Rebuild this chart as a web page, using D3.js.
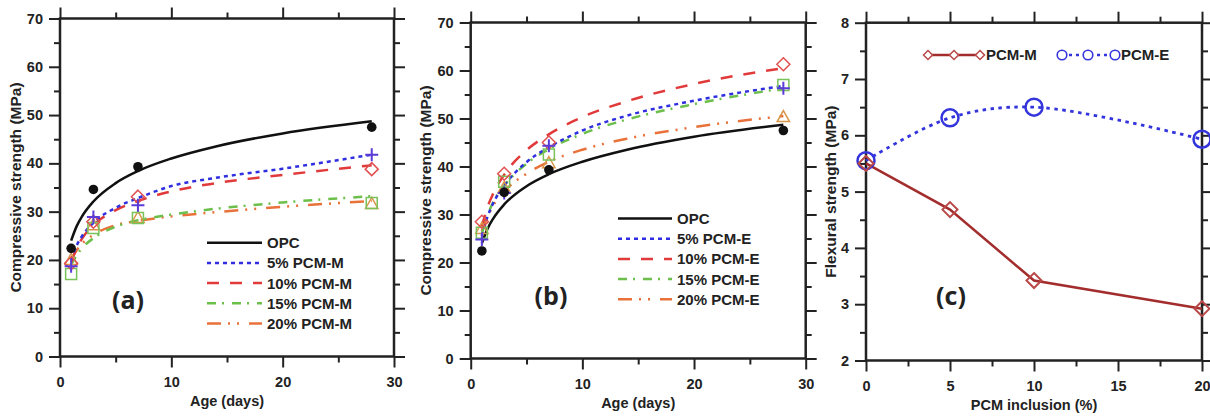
<!DOCTYPE html>
<html><head><meta charset="utf-8">
<script src="https://cdn.jsdelivr.net/npm/d3@7"></script>
<style>
body{margin:0;background:#fff;}
svg text{font-family:"Liberation Sans",Arial,sans-serif;font-weight:bold;fill:#222;}
</style></head><body>
<svg id="chart" width="1210" height="416"></svg>
<script>
// ---------- data ----------
const ages = [1, 3, 7, 28];
const fitAges = [1, 1.5, 2, 3, 5, 7, 10, 14, 20, 28];
const namesM = ["OPC", "5% PCM-M", "10% PCM-M", "15% PCM-M", "20% PCM-M"];
const namesE = ["OPC", "5% PCM-E", "10% PCM-E", "15% PCM-E", "20% PCM-E"];

const opcPoints = [22.4, 34.6, 39.3, 47.5];
const opcFit    = [24.0, 27.0, 29.1, 32.1, 35.9, 38.4, 41.0, 43.5, 46.2, 48.7];

const m5Points  = [18.7, 28.9, 31.3, 41.8];
const m5Fit     = [20.0, 23.0, 25.0, 27.7, 30.8, 32.8, 35.3, 37.0, 38.9, 41.8];
const m10Points = [19.3, 27.9, 33.1, 38.8];
const m10Fit    = [19.5, 22.5, 24.5, 27.2, 30.3, 32.2, 34.2, 35.9, 37.6, 39.6];
const m15Points = [17.1, 26.6, 28.7, 31.8];
const m15Fit    = [19.0, 21.0, 22.5, 24.5, 26.9, 28.2, 29.4, 30.6, 31.9, 33.2];
const m20Points = [20.0, 27.2, 28.7, 31.6];
const m20Fit    = [20.0, 22.0, 23.4, 25.2, 27.2, 28.1, 29.0, 29.9, 31.0, 32.2];

const e5Points  = [24.8, 34.5, 44.3, 56.3];
const e5Fit     = [25.5, 29.5, 32.3, 36.0, 40.9, 44.0, 47.5, 50.6, 53.7, 56.8];
const e10Points = [28.5, 38.5, 45.0, 61.3];
const e10Fit    = [27.5, 31.5, 34.3, 38.3, 43.4, 46.7, 50.3, 53.6, 57.2, 60.5];
const e15Points = [26.2, 36.8, 42.5, 57.0];
const e15Fit    = [26.0, 29.8, 32.5, 36.0, 40.6, 43.6, 46.8, 49.8, 53.0, 56.3];
const e20Points = [27.0, 35.5, 40.7, 50.3];
const e20Fit    = [26.5, 29.5, 31.8, 34.8, 38.5, 41.0, 43.5, 45.8, 48.2, 50.5];

const ageTicks = [0, 10, 20, 30];
const ageMinor = [5, 15, 25];
const strengthTicks = [0, 10, 20, 30, 40, 50, 60, 70];
const strengthMinor = [5, 15, 25, 35, 45, 55, 65];

const inclusion = [0, 5, 10, 20];
const flexuralM = [5.50, 4.68, 3.42, 2.92];
const flexuralE = [5.55, 6.31, 6.50, 5.93];
const inclusionTicks = [0, 5, 10, 15, 20];
const inclusionMinor = [2.5, 7.5, 12.5, 17.5];
const flexTicks = [2, 3, 4, 5, 6, 7, 8];
const flexMinor = [2.5, 3.5, 4.5, 5.5, 6.5, 7.5];
const namesC = ["PCM-M", "PCM-E"];

// ---------- styles ----------
const styles = [
  {line:"#111111", dash:null,               marker:"circle",   mcol:"#111111"},
  {line:"#2f2fe0", dash:"4,4",              marker:"plus",     mcol:"#5a3bd8"},
  {line:"#e03a3a", dash:"12,11",            marker:"diamond",  mcol:"#e05050"},
  {line:"#6cbf4a", dash:"9,6,2,8",          marker:"square",   mcol:"#79c25a"},
  {line:"#e8723a", dash:"14,7,2,7,2,10",    marker:"triangle", mcol:"#d9964a"}
];

const svg = d3.select("#chart");
const fmtInt = d3.format("d");

function markerPath(type, s) {
  switch (type) {
    case "plus": return `M${-s},0H${s}M0,${-s}V${s}`;
    case "diamond": return `M0,${-s}L${s},0L0,${s}L${-s},0Z`;
    case "square": return `M${-s},${-s}H${s}V${s}H${-s}Z`;
    case "triangle": return `M0,${-s}L${s*0.95},${s*0.7}L${-s*0.95},${s*0.7}Z`;
  }
  return "";
}

function frameAndAxes(p) {
  const g = svg.append("g");
  const st = (sel) => {
    sel.select(".domain").remove();
    sel.selectAll("line").attr("stroke", "#222").attr("stroke-width", 2);
    sel.selectAll("text").attr("font-family", null).attr("font-size", "14.5px").attr("fill", "#222");
  };
  const xMaj = p.xTicks, xMin = p.xMinor, yMaj = p.yTicks, yMin = p.yMinor;
  g.append("g").attr("transform", `translate(0,${p.bottom})`)
    .call(d3.axisBottom(p.x).tickValues(xMaj).tickSize(11).tickPadding(9).tickFormat(fmtInt)).call(st);
  g.append("g").attr("transform", `translate(0,${p.bottom})`)
    .call(d3.axisBottom(p.x).tickValues(xMin).tickSize(6).tickFormat("")).call(st);
  g.append("g").attr("transform", `translate(0,${p.top})`)
    .call(d3.axisTop(p.x).tickValues(xMaj).tickSize(11).tickFormat("")).call(st);
  g.append("g").attr("transform", `translate(0,${p.top})`)
    .call(d3.axisTop(p.x).tickValues(xMin).tickSize(6).tickFormat("")).call(st);
  g.append("g").attr("transform", `translate(${p.left},0)`)
    .call(d3.axisLeft(p.y).tickValues(yMaj).tickSize(11).tickPadding(6).tickFormat(fmtInt)).call(st);
  g.append("g").attr("transform", `translate(${p.left},0)`)
    .call(d3.axisLeft(p.y).tickValues(yMin).tickSize(6).tickFormat("")).call(st);
  g.append("g").attr("transform", `translate(${p.right},0)`)
    .call(d3.axisRight(p.y).tickValues(yMaj).tickSize(11).tickFormat("")).call(st);
  g.append("g").attr("transform", `translate(${p.right},0)`)
    .call(d3.axisRight(p.y).tickValues(yMin).tickSize(6).tickFormat("")).call(st);
  g.append("rect").attr("x", p.left).attr("y", p.top)
    .attr("width", p.right - p.left).attr("height", p.bottom - p.top)
    .attr("fill", "none").attr("stroke", "#222").attr("stroke-width", 2.5);
  // axis titles
  svg.append("text").attr("x", (p.left + p.right) / 2).attr("y", p.xTitleY)
    .attr("text-anchor", "middle").attr("font-size", "14.5px").text(p.xTitle);
  svg.append("text").attr("transform", `translate(${p.yTitleX},${(p.top + p.bottom) / 2}) rotate(-90)`)
    .attr("text-anchor", "middle").attr("font-size", "15.5px").text(p.yTitle);
  svg.append("text").attr("x", p.tagX).attr("y", p.tagY).attr("text-anchor", "middle")
    .attr("dy", "0.35em")
    .style("font-family", "'Open Sans', 'Noto Sans', sans-serif").style("font-weight", "700")
    .attr("font-size", "25px").text(p.tag);
}

function strengthPanel(p, names, fits, points, legend) {
  p.x = d3.scaleLinear().domain([0, 30]).range([p.left, p.right]);
  p.y = d3.scaleLinear().domain([0, 70]).range([p.bottom, p.top]);
  p.xTicks = ageTicks; p.xMinor = ageMinor; p.yTicks = strengthTicks; p.yMinor = strengthMinor;
  p.xTitle = "Age (days)"; p.yTitle = "Compressive strength (MPa)";
  frameAndAxes(p);
  const line = d3.line().x((d, i) => p.x(fitAges[i])).y(d => p.y(d)).curve(d3.curveMonotoneX);
  const order = [4, 3, 2, 1, 0];
  order.forEach(k => {
    svg.append("path").attr("d", line(fits[k])).attr("fill", "none")
      .attr("stroke", styles[k].line).attr("stroke-width", 2.5)
      .attr("stroke-dasharray", styles[k].dash);
  });
  order.forEach(k => {
    const s = styles[k];
    points[k].forEach((v, i) => {
      const cx = p.x(ages[i]), cy = p.y(v);
      if (s.marker === "circle") {
        svg.append("circle").attr("cx", cx).attr("cy", cy).attr("r", 4.8).attr("fill", s.mcol);
      } else {
        const size = s.marker === "plus" ? 6.5 : s.marker === "square" ? 5.5 : 6.5;
        svg.append("path").attr("transform", `translate(${cx},${cy})`)
          .attr("d", markerPath(s.marker, size)).attr("fill", "none")
          .attr("stroke", s.mcol).attr("stroke-width", s.marker === "plus" ? 2 : 1.5);
      }
    });
  });
  names.forEach((n, k) => {
    const y = legend.y0 + k * legend.step;
    svg.append("line").attr("x1", legend.x1).attr("x2", legend.x2).attr("y1", y).attr("y2", y)
      .attr("stroke", styles[k].line).attr("stroke-width", 2.5)
      .attr("stroke-dasharray", styles[k].dash);
    svg.append("text").attr("x", legend.tx).attr("y", y).attr("dy", "0.36em")
      .attr("font-size", "15px").text(n);
  });
}

strengthPanel({left:60, right:394, top:18.5, bottom:356.5, xTitleY:406, yTitleX:21,
               tag:"(a)", tagX:128, tagY:300},
  namesM, [opcFit, m5Fit, m10Fit, m15Fit, m20Fit],
  [opcPoints, m5Points, m10Points, m15Points, m20Points],
  {x1:207, x2:262, tx:267, y0:242.7, step:20.2});

strengthPanel({left:470.7, right:805.7, top:22.5, bottom:358.5, xTitleY:408, yTitleX:431,
               tag:"(b)", tagX:551, tagY:296},
  namesE, [opcFit, e5Fit, e10Fit, e15Fit, e20Fit],
  [opcPoints, e5Points, e10Points, e15Points, e20Points],
  {x1:618, x2:672, tx:677, y0:218.5, step:20.2});

// ---------- panel (c) ----------
(function () {
  const p = {left:866, right:1202, top:22.7, bottom:360.5, xTitleY:410, yTitleX:836,
             tag:"(c)", tagX:951, tagY:296};
  p.x = d3.scaleLinear().domain([0, 20]).range([p.left, p.right]);
  p.y = d3.scaleLinear().domain([2, 8]).range([p.bottom, p.top]);
  p.xTicks = inclusionTicks; p.xMinor = inclusionMinor; p.yTicks = flexTicks; p.yMinor = flexMinor;
  p.xTitle = "PCM inclusion (%)"; p.yTitle = "Flexural strength (MPa)";
  frameAndAxes(p);
  const colM = "#a32c2c", colMk = "#b94848", colE = "#3434dc";
  const lineM = d3.line().x((d, i) => p.x(inclusion[i])).y(d => p.y(d));
  const lineE = d3.line().x((d, i) => p.x(inclusion[i])).y(d => p.y(d)).curve(d3.curveCatmullRom.alpha(0.5));
  svg.append("path").attr("d", lineE(flexuralE)).attr("fill", "none").attr("stroke", colE)
    .attr("stroke-width", 2.8).attr("stroke-dasharray", "3.5,4.5");
  svg.append("path").attr("d", lineM(flexuralM)).attr("fill", "none").attr("stroke", colM)
    .attr("stroke-width", 2.5);
  flexuralE.forEach((v, i) => {
    svg.append("circle").attr("cx", p.x(inclusion[i])).attr("cy", p.y(v)).attr("r", 8.5)
      .attr("fill", "none").attr("stroke", colE).attr("stroke-width", 2.5);
  });
  flexuralM.forEach((v, i) => {
    svg.append("path").attr("transform", `translate(${p.x(inclusion[i])},${p.y(v)})`)
      .attr("d", markerPath("diamond", 7.5)).attr("fill", "none")
      .attr("stroke", colMk).attr("stroke-width", 2);
  });
  const ly = 55;
  svg.append("line").attr("x1", 928).attr("x2", 980).attr("y1", ly).attr("y2", ly)
    .attr("stroke", colM).attr("stroke-width", 2.5);
  [928, 954, 980].forEach(x => svg.append("path").attr("transform", `translate(${x},${ly})`)
    .attr("d", markerPath("diamond", 4.5)).attr("fill", "#fff").attr("stroke", colMk).attr("stroke-width", 1.5));
  svg.append("text").attr("x", 986).attr("y", ly).attr("dy", "0.36em").attr("font-size", "15px").text(namesC[0]);
  svg.append("line").attr("x1", 1062).attr("x2", 1115).attr("y1", ly).attr("y2", ly)
    .attr("stroke", colE).attr("stroke-width", 2.5).attr("stroke-dasharray", "3,4");
  [1062, 1088, 1115].forEach(x => svg.append("circle").attr("cx", x).attr("cy", ly).attr("r", 4.8)
    .attr("fill", "#fff").attr("stroke", colE).attr("stroke-width", 1.6));
  svg.append("text").attr("x", 1121).attr("y", ly).attr("dy", "0.36em").attr("font-size", "15px").text(namesC[1]);
})();
</script>
</body></html>
